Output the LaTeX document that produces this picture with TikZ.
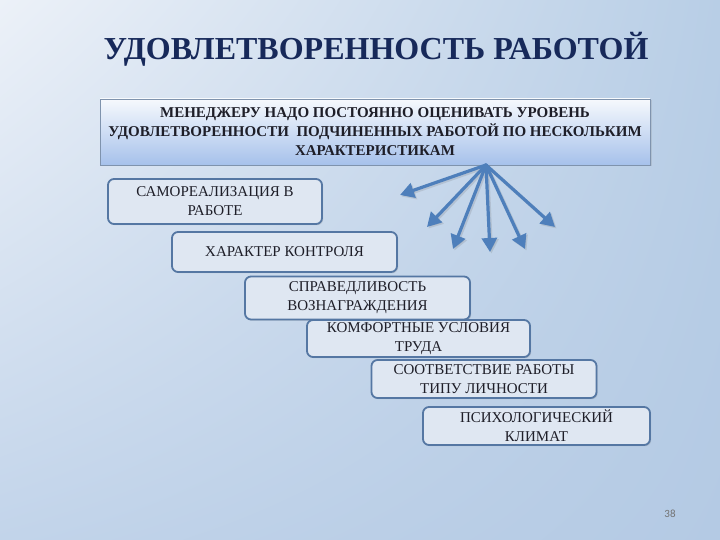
\documentclass[tikz,border=0pt]{standalone}
\usepackage{fontspec}
\setmainfont{Liberation Serif}
\newfontfamily\numfont{Carlito}
\usetikzlibrary{arrows.meta,shadows,shadings}
\definecolor{bgUL}{HTML}{ECF1F8}
\definecolor{bgUR}{HTML}{B8CEE6}
\definecolor{bgLL}{HTML}{C2D4EA}
\definecolor{bgLR}{HTML}{B4CAE4}
\definecolor{titleblue}{HTML}{17295A}
\definecolor{boxfill}{HTML}{DFE7F2}
\definecolor{boxedge}{HTML}{5577A3}
\definecolor{topedge}{HTML}{7F93AD}
\definecolor{toptop}{HTML}{F6F9FD}
\definecolor{topbot}{HTML}{A6C1EB}
\definecolor{arrowblue}{HTML}{4E7FBB}
\definecolor{textdark}{HTML}{1E1E28}
\tikzset{
  itembox/.style={draw=boxedge, line width=1.8pt, fill=boxfill, rounded corners=6pt,
    inner sep=0pt, align=center, font=\fontsize{15}{19}\selectfont, text=textdark,
    drop shadow={opacity=0.25, shadow xshift=1.2pt, shadow yshift=-1.2pt}},
  topbox/.style={draw=topedge, line width=0.8pt, top color=toptop, bottom color=topbot,
    inner sep=0pt, align=center, font=\bfseries\fontsize{15}{19}\selectfont, text=textdark,
    drop shadow={opacity=0.2, shadow xshift=1.5pt, shadow yshift=-1.5pt}},
  ray/.style={draw=arrowblue, line width=3.2pt, line cap=round,
    -{Triangle[length=14pt,width=15pt]}},
  rayshadow/.style={draw=black!60, opacity=0.18, line width=3.2pt,
    -{Triangle[length=14pt,width=15pt]}}
}
\begin{document}
\begin{tikzpicture}[x=1pt,y=-1pt]
\useasboundingbox (0,0) rectangle (720,540);
\shade[upper left=bgUL, upper right=bgUR, lower left=bgLL, lower right=bgLR]
  (0,0) rectangle (720,540);
\node[font=\bfseries\fontsize{32}{36}\selectfont, text=titleblue] (title) at (376,49)
  {УДОВЛЕТВОРЕННОСТЬ РАБОТОЙ};
\node[topbox, minimum width=550pt, minimum height=66pt] (top) at (375,132)
  {МЕНЕДЖЕРУ НАДО ПОСТОЯННО ОЦЕНИВАТЬ УРОВЕНЬ\\
   УДОВЛЕТВОРЕННОСТИ \ ПОДЧИНЕННЫХ РАБОТОЙ ПО НЕСКОЛЬКИМ\\
   ХАРАКТЕРИСТИКАМ};
\node[itembox, minimum width=214pt, minimum height=45pt] (b1) at (215,201.5)
  {САМОРЕАЛИЗАЦИЯ В\\РАБОТЕ};
\node[itembox, minimum width=225pt, minimum height=40pt] (b2) at (284.5,252)
  {ХАРАКТЕР КОНТРОЛЯ};
\node[itembox, minimum width=225pt, minimum height=43pt] (b3) at (357.5,298)
  {СПРАВЕДЛИВОСТЬ\\ВОЗНАГРАЖДЕНИЯ};
\node[itembox, minimum width=223pt, minimum height=37pt] (b4) at (418.5,338.5)
  {КОМФОРТНЫЕ УСЛОВИЯ\\ТРУДА};
\node[itembox, minimum width=225pt, minimum height=38pt] (b5) at (484,379)
  {СООТВЕТСТВИЕ РАБОТЫ\\ТИПУ ЛИЧНОСТИ};
\node[itembox, minimum width=227pt, minimum height=38pt] (b6) at (536.5,426)
  {ПСИХОЛОГИЧЕСКИЙ\\КЛИМАТ};
\coordinate (o) at (486,165);
\coordinate (t1) at (400,195);
\coordinate (t2) at (427,227);
\coordinate (t3) at (453,249);
\coordinate (t4) at (490,252);
\coordinate (t5) at (525,249);
\coordinate (t6) at (555,227);
\foreach \t in {t1,t2,t3,t4,t5,t6}{
  \draw[rayshadow] ([shift={(1.5,1.5)}]o) -- ([shift={(1.5,1.5)}]\t);
}
\foreach \t in {t1,t2,t3,t4,t5,t6}{
  \draw[ray] (o) -- (\t);
}
\node[font=\numfont\fontsize{11}{13}\selectfont, text=black!55] (num) at (670,514) {38};
\end{tikzpicture}
\end{document}
